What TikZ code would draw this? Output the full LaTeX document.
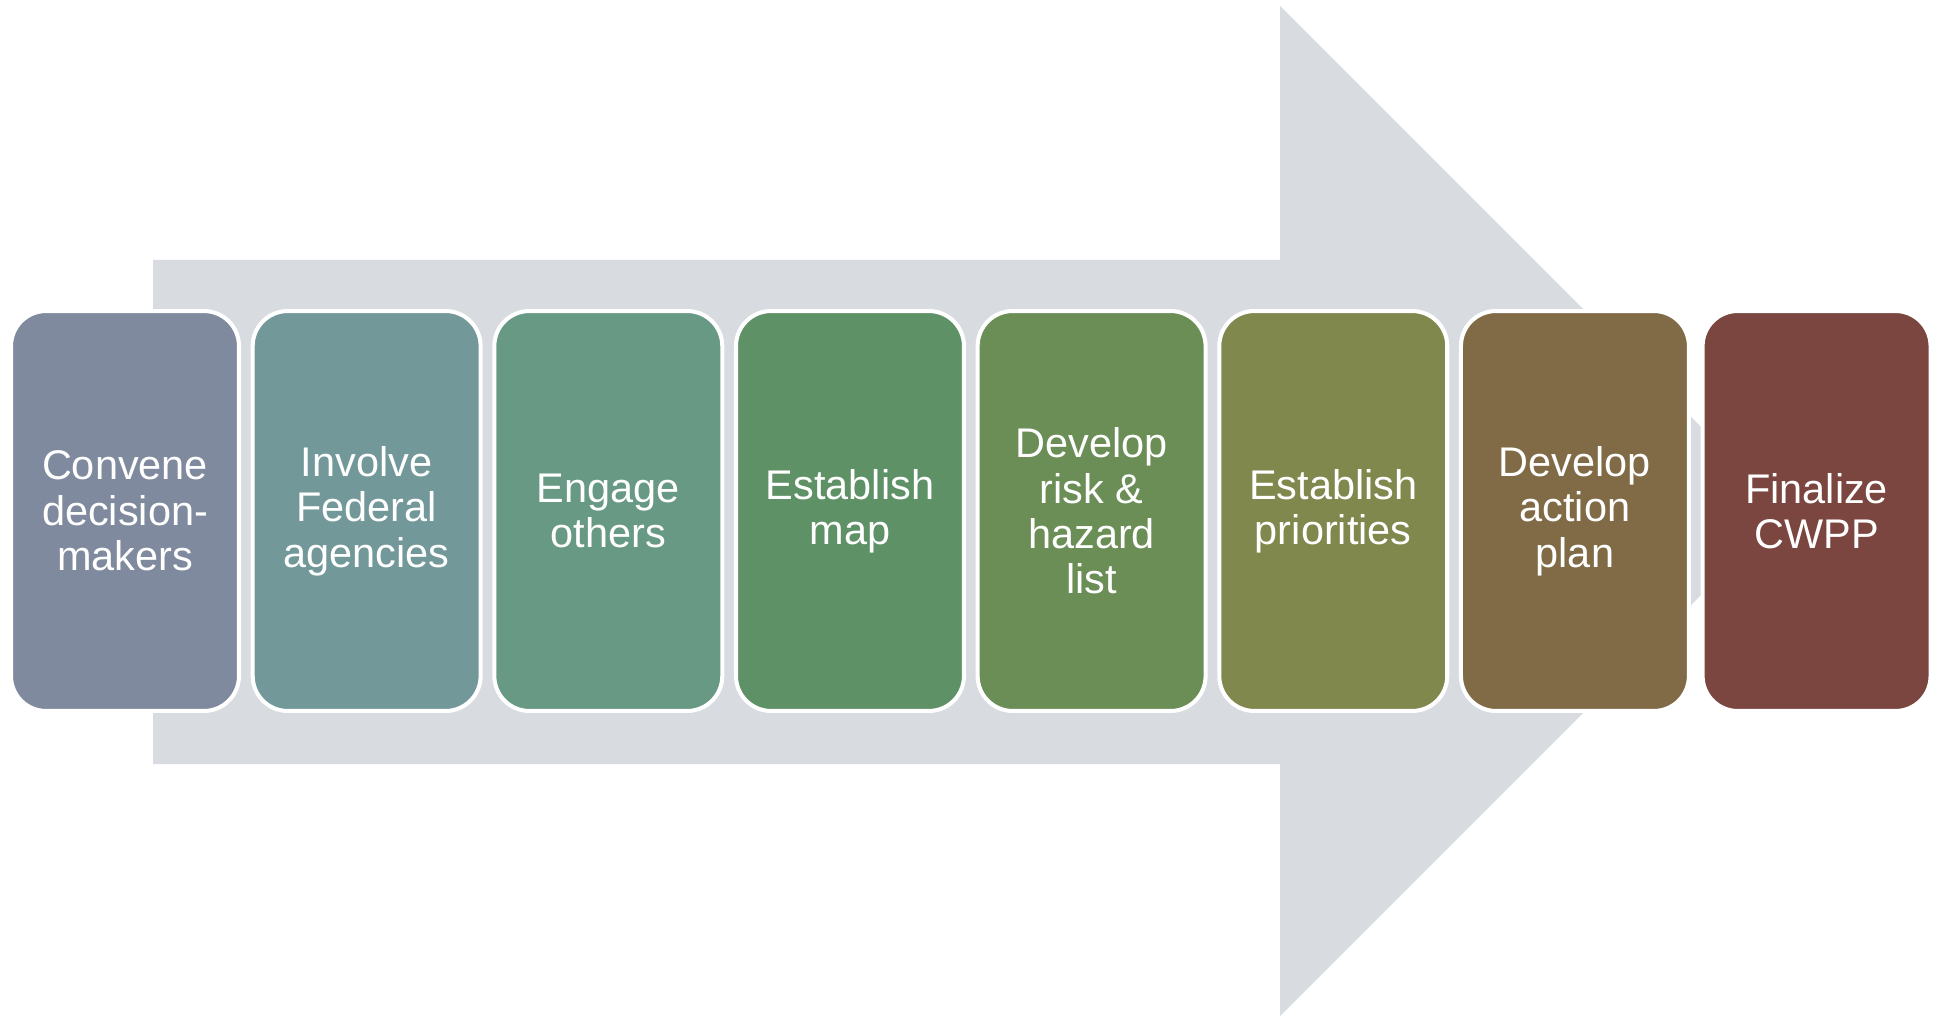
\documentclass[tikz,border=0pt]{standalone}
\usepackage{fontspec}
\setmainfont{Liberation Sans}
\usetikzlibrary{positioning}
\definecolor{arrowgray}{HTML}{D8DBE0}
\definecolor{convenecol}{HTML}{7F8A9E}
\definecolor{involvecol}{HTML}{739899}
\definecolor{engagecol}{HTML}{689984}
\definecolor{mapcol}{HTML}{5E9166}
\definecolor{riskcol}{HTML}{6A8E55}
\definecolor{prioritycol}{HTML}{80884D}
\definecolor{actioncol}{HTML}{806B46}
\definecolor{finalcol}{HTML}{7A463F}
\begin{document}
\begin{tikzpicture}[x=0.02cm, y=-0.02cm,
  stage/.style={rectangle, rounded corners=0.7cm, draw=white, line width=2.3pt,
    minimum width=4.56cm, minimum height=8cm, inner sep=0pt, outer sep=0pt,
    align=center, text=white, font=\fontsize{23.6}{25.8}\selectfont},
  node distance=0.274cm]

\useasboundingbox (0,0) rectangle (1939,1016);
\fill[arrowgray] (153,260) -- (1280,260) -- (1280,6) -- (1785,511) -- (1280,1016) -- (1280,764) -- (153,764) -- cycle;

\node[stage, fill=convenecol] (convene) at (125,511) {Convene\\decision-\\makers};
\node[stage, fill=involvecol, right=of convene] (involve) {Involve\\Federal\\agencies};
\node[stage, fill=engagecol, right=of involve] (engage) {Engage\\others};
\node[stage, fill=mapcol, right=of engage] (map) {Establish\\map};
\node[stage, fill=riskcol, right=of map] (risk) {Develop\\risk \&\\hazard\\list};
\node[stage, fill=prioritycol, right=of risk] (priority) {Establish\\priorities};
\node[stage, fill=actioncol, right=of priority] (action) {Develop\\action\\plan};
\node[stage, fill=finalcol, right=of action] (final) {Finalize\\CWPP};

\end{tikzpicture}
\end{document}
